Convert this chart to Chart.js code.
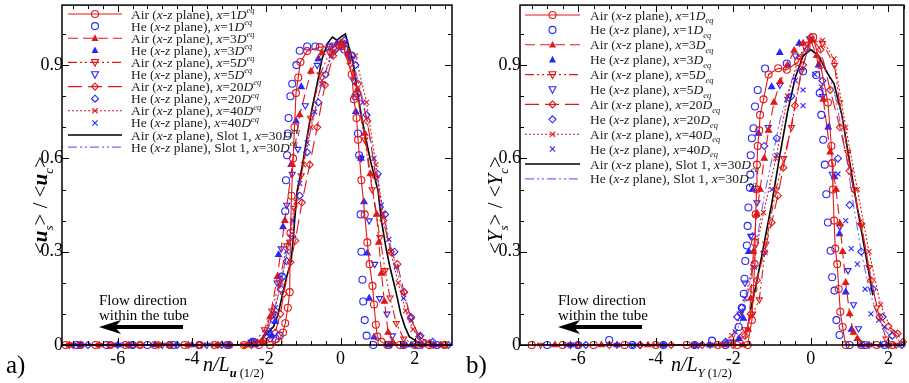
<!DOCTYPE html>
<html>
<head>
<meta charset="utf-8">
<script src="https://cdn.jsdelivr.net/npm/chart.js"></script>
<style>
  html, body { margin: 0; padding: 0; background: #fff; }
  #wrap { position: relative; width: 909px; height: 383px; overflow: hidden; }
  canvas { position: absolute; top: 0; }
  #ca { left: 0; }
  #cb { left: 460px; }
</style>
</head>
<body>
<div id="wrap">
  <canvas id="ca" width="460" height="383"></canvas>
  <canvas id="cb" width="449" height="383"></canvas>
</div>
<script>
// ---- panel a) velocity profiles, [n/L, <u_s>/<u_c>] ----
var a_air1 = [[-7.4,0],[-7.0,0],[-6.6,0],[-6.2,0],[-5.8,0],[-5.4,0],[-5.0,0],[-4.6,0],[-4.2,0],[-3.8,0],[-3.4,0],[-3.0,0],[-2.6,0],[-2.2,0],[-1.9,0],[-1.67,0.01],[-1.55,0.04],[-1.49,0.07],[-1.42,0.12],[-1.37,0.17],[-1.35,0.36],[-1.32,0.48],[-1.28,0.6],[-1.24,0.7],[-1.2,0.81],[-1.14,0.86],[-1.08,0.91],[-0.9,0.945],[-0.56,0.958],[-0.2,0.96],[0.05,0.97],[0.3,0.87],[0.36,0.79],[0.43,0.73],[0.47,0.66],[0.56,0.53],[0.65,0.42],[0.72,0.33],[0.78,0.26],[0.86,0.19],[0.9,0.13],[0.95,0.065],[0.99,0.027],[1.1,0.01],[1.26,0],[1.6,0],[2.0,0],[2.4,0],[2.8,0]];
var a_he1 = [[-7.1,0],[-6.3,0],[-5.6,0],[-5.2,0],[-4.5,0],[-3.8,0],[-3.05,0],[-2.35,0.01],[-1.75,0.02],[-1.64,0.03],[-1.58,0.22],[-1.49,0.43],[-1.47,0.53],[-1.44,0.61],[-1.42,0.68],[-1.4,0.73],[-1.35,0.8],[-1.3,0.84],[-1.19,0.9],[-1.1,0.946],[-0.9,0.96],[-0.68,0.96],[-0.3,0.96],[0.1,0.95],[0.3,0.93],[0.4,0.8],[0.47,0.68],[0.5,0.61],[0.54,0.42],[0.56,0.3],[0.59,0.21],[0.61,0.14],[0.65,0.08],[0.7,0.03],[0.88,0],[1.3,0],[1.7,0],[2.1,0],[2.6,0]];
var a_air3 = [[-7.3,0],[-6.5,0],[-5.7,0],[-4.9,0],[-4.1,0],[-3.3,0],[-2.5,0],[-2.1,0.01],[-1.9,0.09],[-1.7,0.22],[-1.5,0.4],[-1.3,0.58],[-1.1,0.74],[-0.8,0.88],[-0.5,0.94],[0.0,0.97],[0.2,0.94],[0.45,0.82],[0.65,0.68],[0.8,0.55],[0.97,0.42],[1.03,0.33],[1.1,0.23],[1.18,0.14],[1.28,0.04],[1.4,0.01],[1.7,0],[2.2,0],[2.7,0]];
var a_he3 = [[-7.0,0],[-6.0,0],[-5.0,0],[-4.0,0],[-3.0,0],[-2.3,0],[-1.85,0.03],[-1.76,0.075],[-1.67,0.29],[-1.55,0.38],[-1.33,0.58],[-1.2,0.72],[-1.06,0.83],[-0.6,0.92],[-0.1,0.97],[0.41,0.75],[0.55,0.6],[0.63,0.46],[0.72,0.295],[0.77,0.15],[0.9,0.025],[1.3,0],[1.9,0],[2.5,0]];
var a_air5 = [[-7.3,0],[-6.5,0],[-5.7,0],[-4.9,0],[-4.1,0],[-3.3,0],[-2.6,0],[-2.3,0.01],[-2.05,0.05],[-1.85,0.11],[-1.65,0.2],[-1.45,0.32],[-1.25,0.44],[-1.06,0.545],[-0.81,0.73],[-0.55,0.87],[-0.3,0.94],[0.0,0.96],[0.2,0.926],[0.45,0.8],[0.65,0.66],[0.85,0.5],[1.06,0.346],[1.2,0.24],[1.33,0.152],[1.5,0.07],[1.7,0.02],[2.0,0],[2.5,0]];
var a_he5 = [[-7.2,0],[-6.0,0],[-4.8,0],[-3.6,0],[-2.4,0.01],[-1.95,0.04],[-1.8,0.1],[-1.71,0.2],[-1.6,0.31],[-1.45,0.45],[-1.3,0.55],[-1.15,0.63],[-0.95,0.77],[-0.63,0.9],[-0.3,0.96],[0.1,0.97],[0.35,0.85],[0.55,0.6],[0.77,0.4],[0.92,0.26],[1.05,0.15],[1.25,0.1],[1.4,0.03],[1.7,0],[2.2,0]];
var a_air20 = [[-7.0,0],[-6.2,0],[-5.4,0],[-4.6,0],[-3.8,0],[-3.0,0],[-2.4,0],[-2.1,0.01],[-1.9,0.02],[-1.76,0.04],[-1.62,0.1],[-1.53,0.165],[-1.35,0.266],[-1.22,0.335],[-1.04,0.458],[-0.83,0.58],[-0.63,0.7],[-0.42,0.836],[-0.2,0.93],[0.05,0.96],[0.27,0.905],[0.47,0.84],[0.72,0.72],[0.95,0.54],[1.15,0.4],[1.35,0.3],[1.53,0.26],[1.71,0.17],[1.89,0.085],[2.12,0.027],[2.4,0.005],[2.8,0]];
var a_he20 = [[-6.8,0],[-5.6,0],[-4.4,0],[-3.2,0],[-2.4,0.01],[-2.0,0.03],[-1.8,0.08],[-1.6,0.18],[-1.45,0.27],[-1.3,0.35],[-1.1,0.48],[-0.9,0.62],[-0.6,0.78],[-0.4,0.87],[-0.15,0.95],[0.1,0.98],[0.4,0.9],[0.7,0.74],[1.0,0.55],[1.2,0.42],[1.45,0.3],[1.71,0.17],[1.9,0.09],[2.15,0.03],[2.48,0.01],[2.9,0]];
var a_air40 = [[-7.3,0],[-6.1,0],[-4.9,0],[-3.7,0],[-2.5,0],[-2.2,0.01],[-2.0,0.04],[-1.8,0.1],[-1.6,0.2],[-1.4,0.33],[-1.2,0.46],[-1.0,0.58],[-0.8,0.7],[-0.5,0.85],[-0.2,0.94],[0.1,0.97],[0.4,0.93],[0.7,0.78],[0.95,0.58],[1.15,0.42],[1.35,0.3],[1.55,0.2],[1.75,0.11],[1.95,0.05],[2.2,0.01],[2.5,0]];
var a_he40 = [[-7.0,0],[-5.8,0],[-4.6,0],[-3.4,0],[-2.3,0.01],[-1.9,0.05],[-1.75,0.12],[-1.6,0.22],[-1.45,0.3],[-1.3,0.4],[-1.1,0.52],[-0.9,0.65],[-0.7,0.75],[-0.5,0.84],[-0.25,0.93],[0.0,0.97],[0.3,0.92],[0.6,0.78],[0.9,0.6],[1.1,0.45],[1.3,0.34],[1.5,0.25],[1.7,0.15],[1.9,0.08],[2.1,0.03],[2.35,0.01],[2.7,0]];
var a_airSlot = [[-7.5,0],[-2.4,0],[-2.2,0.01],[-2.07,0.027],[-1.95,0.04],[-1.8,0.06],[-1.68,0.1],[-1.58,0.154],[-1.45,0.22],[-1.33,0.27],[-1.25,0.38],[-1.17,0.495],[-1.04,0.57],[-0.9,0.67],[-0.77,0.76],[-0.63,0.84],[-0.5,0.92],[-0.35,0.97],[-0.22,0.99],[-0.1,0.98],[0.0,0.99],[0.13,1.0],[0.22,0.96],[0.32,0.92],[0.43,0.83],[0.54,0.75],[0.67,0.67],[0.81,0.59],[1.01,0.495],[1.1,0.4],[1.22,0.314],[1.33,0.25],[1.44,0.197],[1.53,0.15],[1.62,0.1],[1.73,0.06],[1.85,0.027],[2.07,0.01],[2.3,0],[3.0,0]];
var a_heSlot = [[-2.4,0],[-2.1,0.02],[-1.9,0.07],[-1.7,0.15],[-1.5,0.26],[-1.3,0.38],[-1.1,0.52],[-0.9,0.64],[-0.6,0.8],[-0.3,0.92],[0.0,0.97],[0.3,0.93],[0.6,0.79],[0.9,0.6],[1.1,0.46],[1.3,0.34],[1.5,0.25],[1.7,0.16],[1.9,0.08],[2.1,0.03],[2.3,0.01],[2.6,0]];

// ---- panel b) concentration profiles, [n/L, <Y_s>/<Y_c>] ----
var b_air1 = [[-7.2,0],[-6.4,0],[-5.6,0],[-4.8,0],[-4.0,0],[-3.2,0],[-2.4,0],[-1.9,0],[-1.63,0],[-1.52,0.08],[-1.48,0.18],[-1.45,0.26],[-1.44,0.33],[-1.42,0.42],[-1.4,0.5],[-1.39,0.58],[-1.37,0.64],[-1.33,0.69],[-1.31,0.74],[-1.22,0.79],[-1.09,0.87],[-0.84,0.89],[-0.62,0.885],[-0.33,0.91],[-0.11,0.96],[0.06,0.99],[0.25,0.9],[0.44,0.78],[0.53,0.64],[0.55,0.585],[0.57,0.5],[0.6,0.4],[0.63,0.31],[0.68,0.26],[0.72,0.18],[0.76,0.107],[0.82,0.058],[0.9,0],[1.3,0],[1.7,0],[2.1,0]];
var b_he1 = [[-6.8,0],[-6.0,0],[-5.2,0.016],[-4.6,0],[-3.8,0],[-3.0,0],[-2.55,0.014],[-2.2,0],[-1.86,0.058],[-1.78,0.12],[-1.73,0.165],[-1.71,0.213],[-1.69,0.27],[-1.65,0.32],[-1.63,0.383],[-1.61,0.442],[-1.57,0.506],[-1.56,0.548],[-1.55,0.61],[-1.52,0.665],[-1.48,0.697],[-1.44,0.767],[-1.37,0.82],[-1.18,0.889],[-0.62,0.905],[-0.2,0.88],[0.14,0.868],[0.23,0.81],[0.27,0.74],[0.32,0.66],[0.36,0.58],[0.4,0.485],[0.44,0.394],[0.51,0.303],[0.55,0.218],[0.61,0.175],[0.66,0.08],[0.74,0.032],[1.0,0],[1.4,0],[1.9,0]];
var b_air3 = [[-6.6,0],[-5.4,0],[-4.2,0],[-3.0,0],[-2.2,0],[-1.75,0],[-1.62,0.05],[-1.55,0.15],[-1.48,0.3],[-1.4,0.42],[-1.31,0.5],[-1.2,0.6],[-1.09,0.69],[-0.95,0.78],[-0.79,0.847],[-0.6,0.9],[-0.43,0.947],[-0.2,0.97],[0.0,0.98],[0.15,0.93],[0.32,0.79],[0.5,0.62],[0.65,0.5],[0.75,0.39],[0.82,0.3],[0.9,0.2],[1.0,0.1],[1.1,0.04],[1.2,0.02],[1.5,0],[2.0,0]];
var b_he3 = [[-6.2,0],[-5.0,0],[-3.8,0],[-2.6,0],[-1.85,0.02],[-1.74,0.085],[-1.6,0.3],[-1.5,0.5],[-1.35,0.68],[-1.01,0.83],[-0.8,0.94],[-0.3,0.97],[0.2,0.9],[0.45,0.7],[0.61,0.54],[0.74,0.357],[0.9,0.17],[1.05,0.05],[1.3,0],[1.8,0]];
var b_air5 = [[-6.97,0],[-6.2,0],[-5.0,0],[-3.8,0],[-2.6,0],[-2.0,0.01],[-1.7,0.05],[-1.5,0.1],[-1.33,0.146],[-1.16,0.325],[-0.9,0.5],[-0.7,0.6],[-0.5,0.7],[-0.25,0.88],[0.0,0.98],[0.3,0.97],[0.61,0.9],[0.74,0.78],[0.95,0.62],[1.1,0.5],[1.3,0.383],[1.5,0.25],[1.7,0.12],[1.94,0.02],[2.2,0]];
var b_he5 = [[-6.2,0],[-4.6,0],[-2.9,0],[-2.1,0.01],[-1.82,0.1],[-1.7,0.2],[-1.55,0.35],[-1.39,0.458],[-1.1,0.7],[-0.8,0.836],[-0.4,0.93],[-0.03,0.985],[0.3,0.8],[0.55,0.55],[0.75,0.38],[0.96,0.24],[1.1,0.13],[1.23,0.053],[1.5,0],[2.0,0]];
var b_air20 = [[-6.0,0],[-5.2,0],[-4.4,0],[-3.6,0],[-2.8,0],[-2.0,0],[-1.7,0.03],[-1.55,0.1],[-1.39,0.208],[-1.2,0.3],[-1.01,0.394],[-0.85,0.48],[-0.71,0.57],[-0.41,0.77],[-0.2,0.9],[0.0,0.99],[0.25,0.95],[0.5,0.82],[0.75,0.7],[1.0,0.56],[1.3,0.39],[1.55,0.208],[1.77,0.09],[2.0,0.06],[2.24,0.037],[2.38,0.01]];
var b_he20 = [[-5.8,0],[-4.4,0],[-3.0,0],[-2.2,0.01],[-1.9,0.09],[-1.78,0.12],[-1.5,0.35],[-1.2,0.64],[-0.88,0.665],[-0.5,0.8],[-0.1,0.95],[0.3,0.85],[0.7,0.6],[1.0,0.45],[1.3,0.3],[1.6,0.18],[1.85,0.09],[2.1,0.03],[2.35,0]];
var b_air40 = [[-6.0,0],[-4.0,0],[-2.4,0],[-2.04,0.03],[-1.8,0.1],[-1.5,0.25],[-1.22,0.426],[-0.9,0.6],[-0.6,0.8],[-0.3,0.93],[0.0,0.98],[0.3,0.98],[0.6,0.92],[0.9,0.7],[1.2,0.5],[1.5,0.3],[1.8,0.13],[2.1,0.04],[2.35,0]];
var b_he40 = [[-6.3,0],[-4.5,0],[-2.6,0],[-1.95,0.042],[-1.7,0.15],[-1.45,0.25],[-1.18,0.298],[-1.0,0.5],[-0.88,0.61],[-0.62,0.79],[-0.4,0.85],[-0.2,0.77],[-0.2,0.82],[0.1,0.87],[0.27,0.83],[0.45,0.7],[0.7,0.55],[0.9,0.4],[1.04,0.31],[1.2,0.26],[1.4,0.18],[1.55,0.1],[1.75,0.08],[1.9,0.058],[2.2,0]];
var b_airSlot = [[-1.56,0.11],[-1.4,0.2],[-1.2,0.33],[-1.0,0.46],[-0.8,0.61],[-0.6,0.75],[-0.4,0.86],[-0.2,0.93],[0.0,0.95],[0.2,0.93],[0.4,0.88],[0.6,0.84],[0.8,0.74],[1.0,0.59],[1.2,0.44],[1.4,0.3],[1.6,0.16]];
var b_heSlot = [[-2.0,0.02],[-1.8,0.08],[-1.6,0.18],[-1.4,0.33],[-1.2,0.48],[-1.0,0.6],[-0.8,0.72],[-0.5,0.85],[-0.2,0.93],[0.0,0.95],[0.3,0.92],[0.6,0.82],[0.9,0.62],[1.1,0.45],[1.3,0.3],[1.5,0.18],[1.7,0.1],[1.9,0.05],[2.1,0.02]];

var stations = ['1', '3', '5', '20', '40'];
var slotStation = '30';
var xTicks = [-6, -4, -2, 0, 2];
var yTicks = [0, 0.3, 0.6, 0.9];

var RED = '#e01818', BLUE = '#2626ff', LBLUE = '#6b6bff';
var FONT = '"Liberation Serif", "DejaVu Serif", serif';
var YMAX = 1.093;
var MR = 3.5; // marker radius

// one style per legend row: Air/He at each station, then the two slot lines
var styles = [
  { color: RED,  line: true,  dash: [],                 marker: 'circle' },
  { color: BLUE, line: false,                          marker: 'circle' },
  { color: RED,  line: true,  dash: [10, 5],            marker: 'triangle', fill: true },
  { color: BLUE, line: false,                          marker: 'triangle', fill: true },
  { color: RED,  line: true,  dash: [9, 3, 2, 3, 2, 3], marker: 'triangle', rot: 180 },
  { color: BLUE, line: false,                          marker: 'triangle', rot: 180 },
  { color: RED,  line: true,  dash: [14, 6],            marker: 'rectRot' },
  { color: BLUE, line: false,                          marker: 'rectRot' },
  { color: RED,  line: true,  dash: [2, 2],             marker: 'crossRot' },
  { color: BLUE, line: false,                          marker: 'crossRot' },
  { color: '#000', line: true, dash: [] },
  { color: LBLUE, line: true, dash: [9, 3, 2, 3, 2, 3] }
];

function toDataset(points, i) {
  var s = styles[i];
  return {
    data: points.map(function (p) { return { x: p[0], y: p[1] }; }),
    showLine: s.line,
    borderColor: s.color,
    borderWidth: s.color === '#000' ? 1.6 : 1.1,
    borderDash: s.dash || [],
    tension: 0,
    pointStyle: s.marker || 'circle',
    pointRadius: s.marker ? MR : 0,
    pointRotation: s.rot || 0,
    pointBorderColor: s.color,
    pointBorderWidth: 1.1,
    pointBackgroundColor: s.fill ? s.color : 'rgba(255,255,255,0)',
    clip: 6
  };
}

function legendSegs(i, eqMode) {
  var gas = (i % 2 === 0) ? 'Air' : 'He';
  var segs = [{ t: gas + ' (' }, { t: 'x', i: 1 }, { t: '-' }, { t: 'z', i: 1 }, { t: ' plane), ' }];
  var st;
  if (i < 10) { st = stations[Math.floor(i / 2)]; }
  else { st = slotStation; segs.push({ t: 'Slot 1, ' }); }
  segs.push({ t: 'x', i: 1 }, { t: '=' + st }, { t: 'D', i: 1 }, { t: 'eq', i: 1, s: eqMode });
  return segs;
}

function rich(ctx, x, y, segs, size) {
  var cx = x;
  segs.forEach(function (g) {
    var small = g.s === 'sub' || g.s === 'sup';
    var sz = small ? size * 0.62 : size;
    ctx.font = (g.i ? 'italic ' : '') + (g.b ? 'bold ' : '') + sz.toFixed(1) + 'px ' + FONT;
    var dy = g.s === 'sub' ? size * 0.28 : (g.s === 'sup' ? -size * 0.42 : 0);
    ctx.fillText(g.t, cx, y + dy);
    cx += ctx.measureText(g.t).width;
  });
  return cx - x;
}

function marker(ctx, s, x, y) {
  ctx.save();
  ctx.strokeStyle = s.color; ctx.fillStyle = s.color; ctx.lineWidth = 1.1; ctx.setLineDash([]);
  var r = MR;
  ctx.beginPath();
  if (s.marker === 'circle') { ctx.arc(x, y, r, 0, Math.PI * 2); ctx.stroke(); }
  else if (s.marker === 'triangle') {
    var d = s.rot ? -1 : 1;
    ctx.moveTo(x, y - d * r * 1.1); ctx.lineTo(x + r, y + d * r * 0.8); ctx.lineTo(x - r, y + d * r * 0.8); ctx.closePath();
    if (s.fill) ctx.fill(); else ctx.stroke();
  } else if (s.marker === 'rectRot') {
    ctx.moveTo(x, y - r); ctx.lineTo(x + r, y); ctx.lineTo(x, y + r); ctx.lineTo(x - r, y); ctx.closePath(); ctx.stroke();
  } else if (s.marker === 'crossRot') {
    ctx.moveTo(x - r * 0.75, y - r * 0.75); ctx.lineTo(x + r * 0.75, y + r * 0.75);
    ctx.moveTo(x + r * 0.75, y - r * 0.75); ctx.lineTo(x - r * 0.75, y + r * 0.75); ctx.stroke();
  }
  ctx.restore();
}

function decor(opt) {
  return {
    id: 'decor',
    afterDraw: function (chart) {
      var ctx = chart.ctx, a = chart.chartArea, xs = chart.scales.x, ys = chart.scales.y;
      ctx.save();
      ctx.fillStyle = '#000'; ctx.strokeStyle = '#000'; ctx.setLineDash([]);

      // inward ticks on all four sides
      ctx.lineWidth = 1;
      ctx.beginPath();
      for (var k = Math.ceil(xs.min / 0.4); k * 0.4 <= xs.max + 1e-9; k++) {
        var v = k * 0.4, px = Math.round(xs.getPixelForValue(v)) + 0.5;
        var len = (Math.abs(v / 2 - Math.round(v / 2)) < 1e-6) ? 7 : 4;
        ctx.moveTo(px, a.bottom); ctx.lineTo(px, a.bottom - len);
        ctx.moveTo(px, a.top); ctx.lineTo(px, a.top + len);
      }
      for (var m = 0; m * 0.1 <= ys.max + 1e-9; m++) {
        var py = Math.round(ys.getPixelForValue(m * 0.1)) + 0.5;
        var l2 = (m % 3 === 0) ? 7 : 4;
        ctx.moveTo(a.left, py); ctx.lineTo(a.left + l2, py);
        ctx.moveTo(a.right, py); ctx.lineTo(a.right - l2, py);
      }
      ctx.stroke();
      ctx.lineWidth = 1.5;
      ctx.strokeRect(a.left, a.top, a.right - a.left, a.bottom - a.top);

      // tick labels
      ctx.font = '18px ' + FONT;
      ctx.textAlign = 'center'; ctx.textBaseline = 'middle';
      xTicks.forEach(function (t) { ctx.fillText(String(t), xs.getPixelForValue(t), a.bottom + 14); });
      ctx.textAlign = 'right';
      yTicks.forEach(function (t) { ctx.fillText(String(t), a.left + 1, ys.getPixelForValue(t)); });

      // axis titles
      ctx.textAlign = 'left'; ctx.textBaseline = 'alphabetic';
      rich(ctx, opt.xTitleX, 371, [{ t: 'n/L', i: 1 }, { t: opt.sym, i: 1, b: opt.bold, s: 'sub' }, { t: ' (1/2)', s: 'sub' }], 20);
      ctx.save();
      ctx.translate(opt.yTitleX, 254); ctx.rotate(-Math.PI / 2);
      rich(ctx, 0, 0, [{ t: '<' }, { t: opt.ysym, i: 1, b: opt.bold }, { t: 's', i: 1, s: 'sub' }, { t: '> / <' },
                       { t: opt.ysym, i: 1, b: opt.bold }, { t: 'c', i: 1, s: 'sub' }, { t: '>' }], 21);
      ctx.restore();

      ctx.font = '25px ' + FONT;
      ctx.fillText(opt.letter, opt.letterX, 373);

      // flow direction note and arrow
      ctx.font = '15px ' + FONT;
      ctx.fillText('Flow direction', opt.flowX, 305);
      ctx.fillText('within the tube', opt.flowX, 320);
      var ax = opt.flowX, ay = 327;
      ctx.fillRect(ax + 14, ay - 2, 70, 4);
      ctx.beginPath();
      ctx.moveTo(ax, ay); ctx.lineTo(ax + 22, ay - 7); ctx.lineTo(ax + 16, ay); ctx.lineTo(ax + 22, ay + 7); ctx.closePath();
      ctx.fill();

      // legend
      for (var i = 0; i < styles.length; i++) {
        var s = styles[i], y = opt.legY + i * opt.legDy;
        if (s.line) {
          ctx.save();
          ctx.strokeStyle = s.color; ctx.lineWidth = s.color === '#000' ? 1.6 : 1.1; ctx.setLineDash(s.dash);
          ctx.beginPath(); ctx.moveTo(opt.legX0, y); ctx.lineTo(opt.legX1, y); ctx.stroke();
          ctx.restore();
        }
        if (s.marker) marker(ctx, s, (opt.legX0 + opt.legX1) / 2, y);
        ctx.fillStyle = '#222';
        rich(ctx, opt.legTx, y + 4.5, legendSegs(i, opt.eq), 13.5);
        ctx.fillStyle = '#000';
      }
      ctx.restore();
    }
  };
}

function makeChart(id, series, xmax, pad, opt) {
  return new Chart(document.getElementById(id), {
    type: 'scatter',
    data: { datasets: series.map(toDataset) },
    options: {
      responsive: false,
      animation: false,
      layout: { padding: pad },
      plugins: { legend: { display: false }, tooltip: { enabled: false } },
      scales: {
        x: { type: 'linear', min: -7.5, max: xmax, display: false },
        y: { type: 'linear', min: 0, max: YMAX, display: false }
      }
    },
    plugins: [decor(opt)]
  });
}

makeChart('ca',
  [a_air1, a_he1, a_air3, a_he3, a_air5, a_he5, a_air20, a_he20, a_air40, a_he40, a_airSlot, a_heSlot],
  3, { left: 62, right: 8, top: 3, bottom: 38 },
  { sym: 'u', ysym: 'u', bold: true, xTitleX: 203, yTitleX: 47, letter: 'a)', letterX: 6, flowX: 99,
    legX0: 68, legX1: 122, legTx: 131, legY: 14, legDy: 12.1, eq: 'sup' });

makeChart('cb',
  [b_air1, b_he1, b_air3, b_he3, b_air5, b_he5, b_air20, b_he20, b_air40, b_he40, b_airSlot, b_heSlot],
  2.4, { left: 60, right: 3, top: 3, bottom: 38 },
  { sym: 'Y', ysym: 'Y', bold: false, xTitleX: 211, yTitleX: 42, letter: 'b)', letterX: 6, flowX: 98,
    legX0: 65, legX1: 120, legTx: 130, legY: 15, legDy: 14.9, eq: 'sub' });
</script>
</body>
</html>
